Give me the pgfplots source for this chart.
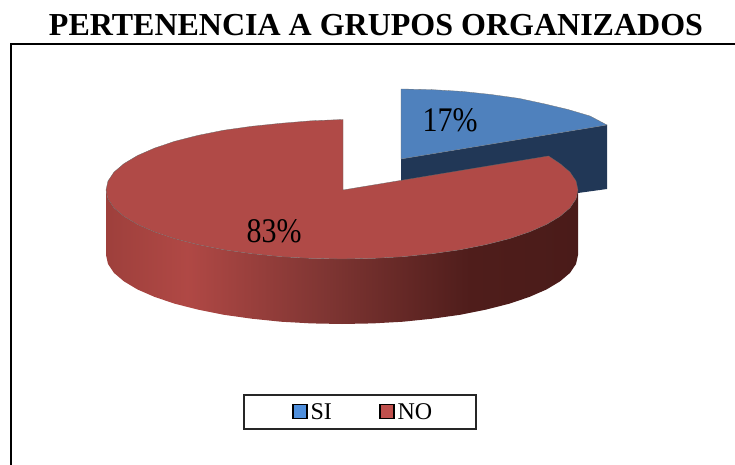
\documentclass[border=0pt]{standalone}
\usepackage{pgfplots}
\pgfplotsset{compat=1.18}
\usepackage{fontspec}
\setmainfont{Liberation Serif}
\definecolor{blueTop}{HTML}{4F81BD}
\definecolor{blueSide}{HTML}{213756}
\definecolor{redTop}{HTML}{B04A47}
\definecolor{legBlue}{HTML}{4F8FDC}
\definecolor{legRed}{HTML}{C0504D}
\pgfdeclarehorizontalshading{redside}{100bp}{
 rgb(0bp)=(.62,.25,.235);
 rgb(25bp)=(.62,.25,.235);
 rgb(33.6bp)=(.69,.283,.27);
 rgb(48bp)=(.50,.21,.20);
 rgb(63.6bp)=(.31,.114,.106);
 rgb(75bp)=(.29,.106,.098);
 rgb(100bp)=(.29,.106,.098)}
\begin{document}
\begin{tikzpicture}
\useasboundingbox (0,0) rectangle (735pt,465pt);
\begin{axis}[
  at={(0,0)},anchor=south west,
  width=735pt,height=465pt,scale only axis,
  xmin=0,xmax=735,ymin=0,ymax=465,y dir=reverse,
  hide axis,clip=false,
  legend columns=2,
  legend style={at={(axis cs:363,412)},anchor=center,draw=none,fill=none,
    font=\fontsize{24}{24}\selectfont,inner xsep=0pt,inner ysep=2pt,
    /tikz/every even column/.append style={column sep=45pt}},
]
\addlegendimage{legend image code/.code={\draw[fill=legBlue,draw=black,line width=1.7pt] (0pt,-6.5pt) rectangle (14pt,7.5pt);}}
\addlegendentry{\hspace{1pt}SI}
\addlegendimage{legend image code/.code={\draw[fill=legRed,draw=black,line width=1.7pt] (0pt,-6.5pt) rectangle (14pt,7.5pt);}}
\addlegendentry{\hspace{1pt}NO}
% frame
\addplot[forget plot,black,line width=2pt] coordinates {(735,44)(11,44)(11,465)};
% legend box
\addplot[forget plot,fill=white,draw=black!85,line width=2pt] coordinates {(243.5,395)(475.5,395)(475.5,428.5)(243.5,428.5)} --cycle;
% blue side
\addplot[forget plot,fill=blueSide,draw=none] coordinates {(401,159)(607,125)(607,189)(578,193)(401,200)} --cycle;
% blue top
\addplot[forget plot,fill=blueTop,draw=black!55,line width=.3pt] coordinates {
(401,159)(607,125)(590,116)(568,109.5)(545,104)(519,98.4)(491,94.5)(462,91.4)(431,89.6)(401,89)} --cycle;
% red side
\addplot[forget plot,shading=redside,draw=none] coordinates {
(578,190)(576,199)(570,207.9)(560,216.4)(546.4,224.5)(529.2,232)(508.9,238.8)(485.7,244.7)(460,249.8)(432.3,253.7)(403.1,256.7)(372.8,258.4)(342,259)
(311.2,258.4)(280.9,256.7)(251.7,253.7)(224,249.8)(198.3,244.7)(175.1,238.8)(154.8,232)(137.6,224.5)(124,216.4)(114,207.9)(108,199)(106,190)
(106,255)(108,264)(114,272.9)(124,281.4)(137.6,289.5)(154.8,297)(175.1,303.8)(198.3,309.7)(224,314.8)(251.7,318.7)(280.9,321.7)(311.2,323.4)(342,324)
(372.8,323.4)(403.1,321.7)(432.3,318.7)(460,314.8)(485.7,309.7)(508.9,303.8)(529.2,297)(546.4,289.5)(560,281.4)(570,272.9)(576,264)(578,255)} --cycle;
% red top
\addplot[forget plot,fill=redTop,draw=black!60,line width=.3pt] coordinates {
(343,190)(548.5,156)(560,163.6)(570,172.1)(576,181)
(578,190)(576,199)(570,207.9)(560,216.4)(546.4,224.5)(529.2,232)(508.9,238.8)(485.7,244.7)(460,249.8)(432.3,253.7)(403.1,256.7)(372.8,258.4)(342,259)
(311.2,258.4)(280.9,256.7)(251.7,253.7)(224,249.8)(198.3,244.7)(175.1,238.8)(154.8,232)(137.6,224.5)(124,216.4)(114,207.9)(108,199)(106,190)
(108,181)(114,172.1)(124,163.6)(137.6,155.5)(154.8,148)(175.1,141.2)(198.3,135.3)(224,130.2)(251.7,126.3)(280.9,123.3)(311.2,120.8)(343,119.5)} --cycle;
\node[inner sep=0pt] at (axis cs:450,120) {\fontsize{30}{30}\selectfont\scalebox{1}[1.15]{17\%}};
\node[inner sep=0pt] at (axis cs:274,231) {\fontsize{30}{30}\selectfont\scalebox{1}[1.15]{83\%}};
\node[inner sep=0pt] at (axis cs:376,25) {\fontsize{32}{32}\selectfont\bfseries PERTENENCIA A GRUPOS ORGANIZADOS};
\end{axis}
\end{tikzpicture}
\end{document}
